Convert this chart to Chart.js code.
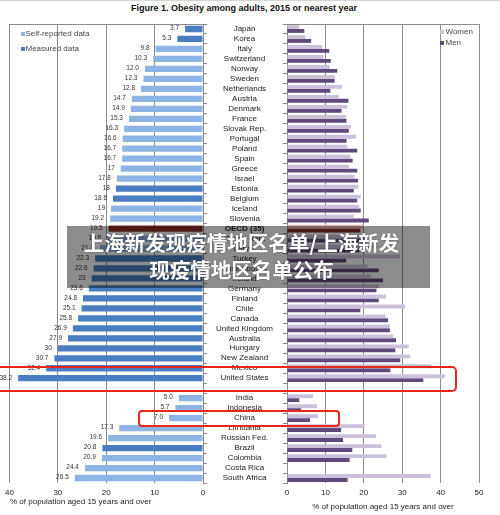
<!DOCTYPE html>
<html>
<head>
<meta charset="utf-8">
<script src="https://cdn.jsdelivr.net/npm/chart.js@4.4.1/dist/chart.umd.min.js"></script>
<style>
  body { margin: 0; width: 500px; height: 515px; position: relative; overflow: hidden; background: #fff;
         font-family: 'Liberation Sans', Arial, sans-serif; }
  #topline { position: absolute; left: 0; top: 0; width: 500px; height: 1px; background: #d4d4d4; }
  #title { position: absolute; left: 0; top: 3px; width: 488px; text-align: center; font-weight: bold;
           font-size: 9px; line-height: 10px; color: #111; }
  canvas { position: absolute; top: 0; }
  #leftChart { left: 0; }
  #rightChart { left: 200px; }
  .sw { position: absolute; width: 4px; height: 4px; }
  .lg { position: absolute; font-size: 8px; line-height: 10px; color: #444; white-space: nowrap; }
  #leftTitle { position: absolute; left: 10px; top: 497px; font-size: 8px; line-height: 10px; color: #222; white-space: nowrap; }
  #banner { position: absolute; left: 67px; top: 226px; width: 349px; height: 59px; padding: 3px 14px 0 0;
            background: rgba(0,0,0,0.45); color: #fff; text-align: center;
            font-family: 'Noto Sans CJK SC', sans-serif; font-weight: bold; font-size: 20.5px; line-height: 27px;
            text-shadow: 0 0 2px rgba(0,0,0,0.4); }
  .redbox { position: absolute; box-sizing: border-box; border: 2px solid #e8261c; border-radius: 5px; }
</style>
</head>
<body>
<div id="topline"></div>
<div id="title">Figure 1. Obesity among adults, 2015 or nearest year</div>
<canvas id="leftChart" width="215" height="515"></canvas>
<canvas id="rightChart" width="300" height="515"></canvas>

<div class="sw" style="left:20.5px;top:32px;background:#8db4e2"></div>
<div class="lg" style="left:25.5px;top:29px">Self-reported data</div>
<div class="sw" style="left:20.5px;top:47px;background:#4a7ec1"></div>
<div class="lg" style="left:25.5px;top:44px">Measured data</div>

<div class="sw" style="left:439.5px;top:29.5px;background:#ccc1da"></div>
<div class="lg" style="left:445.5px;top:26.5px">Women</div>
<div class="sw" style="left:439.5px;top:41px;background:#604a7b"></div>
<div class="lg" style="left:445.5px;top:38px">Men</div>

<div id="leftTitle">% of population aged 15 years and over</div>

<div id="banner">上海新发现疫情地区名单/上海新发<br>现疫情地区名单公布</div>
<div class="redbox" style="left:-10px;top:366px;width:467px;height:26px"></div>
<div class="redbox" style="left:138px;top:410px;width:202px;height:16.5px;border-radius:4px"></div>

<script>
const countries = [
  'Japan', 'Korea', 'Italy', 'Switzerland', 'Norway', 'Sweden', 'Netherlands', 'Austria', 'Denmark', 'France',
  'Slovak Rep.', 'Portugal', 'Poland', 'Spain', 'Greece', 'Israel', 'Estonia', 'Belgium', 'Iceland', 'Slovenia',
  'OECD (35)', 'Czech Rep.', 'Latvia', 'Turkey', 'Luxembourg', 'Ireland',
  'Germany', 'Finland', 'Chile', 'Canada', 'United Kingdom', 'Australia', 'Hungary', 'New Zealand', 'Mexico', 'United States',
  '',
  'India', 'Indonesia', 'China', 'Lithuania', 'Russian Fed.', 'Brazil', 'Colombia', 'Costa Rica', 'South Africa'
];

// total obesity, as printed next to the bars
const totalText = [
  '3.7', '5.3', '9.8', '10.3', '12.0', '12.3', '12.8', '14.7', '14.9', '15.3',
  '16.3', '16.6', '16.7', '16.7', '17', '17.8', '18', '18.6', '19', '19.2',
  '19.5', '19.8', '21.3', '22.3', '22.6', '23',
  '23.6', '24.8', '25.1', '25.8', '26.9', '27.9', '30', '30.7', '32.4', '38.2',
  '',
  '5.0', '5.7', '7.0', '17.3', '19.6', '20.8', '20.9', '24.4', '26.5'
];

// S = self-reported, M = measured, O = OECD average
const dataType = [
  'M', 'M', 'S', 'S', 'S', 'S', 'S', 'S', 'S', 'S',
  'S', 'S', 'S', 'S', 'S', 'S', 'M', 'M', 'S', 'S',
  'O', 'S', 'S', 'M', 'M', 'M',
  'M', 'M', 'M', 'M', 'M', 'M', 'M', 'M', 'M', 'M',
  '',
  'S', 'S', 'S', 'S', 'S', 'M', 'S', 'S', 'S'
];

const women = [
  3.2, 4.8, 9.2, 9.5, 11.1, 12.4, 14.3, 13.5, 15.7, 15.4,
  16.7, 18.0, 15.7, 16.5, 16.2, 17.6, 18.6, 19.2, 18.8, 17.4,
  19.9, 19.0, 23.5, 29.4, 21.0, 21.9,
  23.9, 25.8, 30.8, 25.7, 26.8, 27.7, 31.7, 32.1, 37.6, 41.1,
  null,
  6.8, 7.8, 8.1, 20.2, 23.2, 24.6, 25.9, null, 37.4
];

const men = [
  4.5, 6.3, 11.0, 11.4, 13.1, 12.4, 11.3, 16.0, 14.2, 15.5,
  16.1, 15.5, 18.3, 17.1, 18.3, 18.5, 17.4, 18.3, 19.2, 21.3,
  19.1, 20.6, 18.9, 15.4, 23.9, 25.0,
  23.3, 23.9, 19.1, 26.3, 26.8, 28.4, 28.2, 29.5, 26.9, 35.5,
  null,
  3.2, 3.7, 6.0, 14.1, 14.6, 17.0, 16.3, null, 15.8
];

const typeColor = { S: '#8db4e2', M: '#4a7ec1', O: '#8c2a2a' };
const gridColor = '#8c8c8c';
const axisTitle = '% of population aged 15 years and over';

Chart.defaults.font.family = "'Liberation Sans', Arial, sans-serif";
Chart.defaults.color = '#222';

const totals = totalText.map(t => t === '' ? null : parseFloat(t));

// top border of each plot frame
const topFrame = {
  id: 'topFrame',
  beforeDatasetsDraw(chart) {
    const { ctx, chartArea: a } = chart;
    ctx.save();
    ctx.strokeStyle = gridColor;
    ctx.lineWidth = 1;
    ctx.beginPath();
    ctx.moveTo(a.left, a.top + 0.5);
    ctx.lineTo(a.right, a.top + 0.5);
    ctx.stroke();
    ctx.restore();
  }
};

// numbers printed at the end of the left bars
const valueLabels = {
  id: 'valueLabels',
  afterDatasetsDraw(chart) {
    const { ctx } = chart;
    const meta = chart.getDatasetMeta(0);
    ctx.save();
    ctx.font = "6.5px 'Liberation Sans', Arial, sans-serif";
    ctx.fillStyle = '#333';
    ctx.textAlign = 'right';
    ctx.textBaseline = 'middle';
    meta.data.forEach((bar, i) => {
      if (!totalText[i]) return;
      ctx.fillText(totalText[i], bar.x - 6, bar.y - 0.5);
    });
    ctx.restore();
  }
};

new Chart(document.getElementById('leftChart'), {
  type: 'bar',
  data: {
    labels: countries,
    datasets: [{
      data: totals,
      backgroundColor: dataType.map(t => typeColor[t] || 'transparent'),
      barPercentage: 0.63,
      categoryPercentage: 1
    }]
  },
  options: {
    indexAxis: 'y',
    responsive: false,
    animation: false,
    layout: { padding: { left: 7, right: 7, top: 24, bottom: 8 } },
    plugins: { legend: { display: false }, tooltip: { enabled: false } },
    scales: {
      x: {
        reverse: true, min: 0, max: 40,
        ticks: { stepSize: 10, padding: 5, font: { size: 8 }, maxRotation: 0 },
        grid: { color: gridColor, drawTicks: false },
        border: { display: false },
        afterFit: s => { s.height = 24; }
      },
      y: {
        position: 'right',
        ticks: { display: false, autoSkip: false },
        grid: { offset: true, drawOnChartArea: false, tickLength: 4, color: gridColor },
        border: { display: true, color: gridColor },
        afterFit: s => { s.width = 5; }
      }
    }
  },
  plugins: [topFrame, valueLabels]
});

new Chart(document.getElementById('rightChart'), {
  type: 'bar',
  data: {
    labels: countries,
    datasets: [
      { label: 'Women', data: women,
        backgroundColor: countries.map(c => c === 'OECD (35)' ? '#e6b9b8' : '#ccc1da') },
      { label: 'Men', data: men,
        backgroundColor: countries.map(c => c === 'OECD (35)' ? '#8c2a2a' : '#604a7b') }
    ]
  },
  options: {
    indexAxis: 'y',
    responsive: false,
    animation: false,
    datasets: { bar: { categoryPercentage: 0.78, barPercentage: 1 } },
    layout: { padding: { left: 0, right: 21, top: 24, bottom: 3 } },
    plugins: { legend: { display: false }, tooltip: { enabled: false } },
    scales: {
      x: {
        min: 0, max: 50,
        ticks: { stepSize: 10, padding: 5, font: { size: 8 }, maxRotation: 0 },
        grid: { color: gridColor, drawTicks: false },
        border: { display: false },
        title: { display: true, text: axisTitle, font: { size: 8 }, padding: 0 },
        afterFit: s => { s.height = 29; }
      },
      y: {
        ticks: {
          autoSkip: false, crossAlign: 'center', padding: 10,
          font: ctx => ({ size: 8, weight: ctx.tick && ctx.tick.label === 'OECD (35)' ? 'bold' : 'normal' })
        },
        grid: { offset: true, drawOnChartArea: false, tickLength: 4, color: gridColor },
        border: { display: true, color: gridColor },
        afterFit: s => { s.width = 87; }
      }
    }
  },
  plugins: [topFrame]
});
</script>
</body>
</html>
